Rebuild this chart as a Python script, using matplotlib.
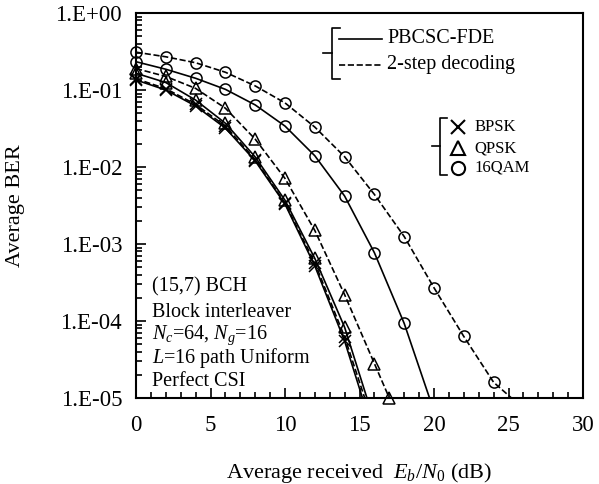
#scientific imports
import numpy as np
import matplotlib
matplotlib.use("Agg")
import matplotlib.pyplot as pl
from matplotlib.ticker import FixedLocator, MultipleLocator, LogLocator, NullFormatter

pl.rc('font', family='Liberation Serif')
pl.rc('mathtext', fontset='custom', rm='Liberation Serif', it='Liberation Serif:italic')

#data (BER vs Eb/N0 in dB)
snr_bpsk = [0, 2, 4, 6, 8, 10, 12, 14]
bpsk_pbcsc = [0.135, 0.10, 0.062, 0.032, 0.012, 0.0033, 5.2e-4, 5.5e-5]
bpsk_2step = [0.14, 0.104, 0.065, 0.034, 0.0125, 0.0034, 5.7e-4, 6.2e-5]
bpsk_end = [15.2, 15.35]  #where the curves reach 1e-5

snr_qpsk = [0, 2, 4, 6, 8, 10, 12, 14]
qpsk_pbcsc = [0.165, 0.125, 0.074, 0.037, 0.0135, 0.0037, 6.5e-4, 8.3e-5]
qpsk_pbcsc_end = 15.5
snr_qpsk2 = [0, 2, 4, 6, 8, 10, 12, 14, 16, 17]
qpsk_2step = [0.19, 0.15, 0.105, 0.058, 0.023, 0.0071, 0.0015, 2.2e-4, 2.8e-5, 1e-5]

snr_qam = [0, 2, 4, 6, 8, 10, 12, 14, 16, 18]
qam_pbcsc = [0.233, 0.186, 0.142, 0.102, 0.064, 0.034, 0.014, 0.0042, 7.7e-4, 9.3e-5]
qam_pbcsc_end = 19.7
snr_qam2 = [0, 2, 4, 6, 8, 10, 12, 14, 16, 18, 20, 22, 24]
qam_2step = [0.31, 0.27, 0.226, 0.17, 0.113, 0.068, 0.033, 0.0136, 0.0044, 1.25e-3, 2.7e-4, 6.3e-5, 1.6e-5]
qam_2step_end = 25.2

ber_floor = 1e-5
y_ticks = [1e-5, 1e-4, 1e-3, 1e-2, 1e-1, 1e0]
y_tick_labels = ["1.E-05", "1.E-04", "1.E-03", "1.E-02", "1.E-01", "1.E+00"]
x_ticks = [0, 5, 10, 15, 20, 25, 30]

notes = ["(15,7) BCH", "Block interleaver", r"$N_c$=64, $N_g$=16",
         r"$L$=16 path Uniform", "Perfect CSI"]

fig = pl.figure(figsize=(5.99, 4.84), dpi=100)
ax = fig.add_axes([136 / 599, 1 - 398 / 484, 447 / 599, 385 / 484])

mk = dict(markersize=8, markerfacecolor='none', markeredgecolor='k', markeredgewidth=1.1)
lw = 1.2


def curve(x, y, end, ls, marker):
    """plot one BER curve, line runs to the 1e-5 floor, markers at measured points"""
    xs = list(x)
    ys = list(y)
    if end is not None:
        xs.append(end)
        ys.append(ber_floor)
    ax.plot(xs, ys, ls=ls, color='k', lw=lw, clip_on=False)
    ax.plot(x, y, ls='none', marker=marker, clip_on=False, **mk)


curve(snr_bpsk, bpsk_pbcsc, bpsk_end[0], '-', 'x')
curve(snr_bpsk, bpsk_2step, bpsk_end[1], '--', 'x')
curve(snr_qpsk, qpsk_pbcsc, qpsk_pbcsc_end, '-', '^')
curve(snr_qpsk2, qpsk_2step, None, '--', '^')
curve(snr_qam, qam_pbcsc, qam_pbcsc_end, '-', 'o')
curve(snr_qam2, qam_2step, qam_2step_end, '--', 'o')

ax.set_yscale('log')
ax.set_xlim(0, 30)
ax.set_ylim(1e-5, 1)
ax.yaxis.set_major_locator(FixedLocator(y_ticks))
ax.set_yticklabels(y_tick_labels)
ax.yaxis.set_minor_locator(LogLocator(base=10, subs=np.arange(2, 10)))
ax.yaxis.set_minor_formatter(NullFormatter())
ax.set_xticks(x_ticks)
ax.xaxis.set_minor_locator(MultipleLocator(1))

ax.tick_params(which='both', direction='in', top=False, right=False, labelsize=16.5, width=1.2)
ax.tick_params(which='major', length=7)
ax.tick_params(which='minor', length=4)
ax.tick_params(axis='x', pad=12)
ax.tick_params(axis='y', pad=10)
for s in ax.spines.values():
    s.set_linewidth(1.5)

ax.set_ylabel("Average BER", fontsize=16, va='center')
ax.yaxis.set_label_coords(-0.27, 0.5)
ax.set_xlabel(r"Average received  $E_b$/$N_0$ (dB)", fontsize=16, va='center')
ax.xaxis.set_label_coords(0.5, -0.195)

#annotation block
note_y = [0.288, 0.223, 0.163, 0.104, 0.042]
for t, yy in zip(notes, note_y):
    ax.text(0.036, yy, t, transform=ax.transAxes, fontsize=14.5, va='center', ha='left')

#legend 1: line styles with bracket
tr = ax.transAxes
ax.plot([0.456, 0.4385, 0.4385, 0.456], [0.961, 0.961, 0.829, 0.829], color='k', lw=1.2, transform=tr)
ax.plot([0.418, 0.4385], [0.896, 0.896], color='k', lw=1.2, transform=tr)
ax.plot([0.454, 0.550], [0.9325, 0.9325], color='k', lw=lw, ls='-', transform=tr)
ax.plot([0.454, 0.550], [0.865, 0.865], color='k', lw=lw, ls='--', transform=tr)
ax.text(0.5615, 0.9325, "PBCSC-FDE", transform=tr, fontsize=14.5, va='center')
ax.text(0.5615, 0.865, "2-step decoding", transform=tr, fontsize=14.5, va='center')

#legend 2: markers with bracket
ax.plot([0.696, 0.680, 0.680, 0.696], [0.727, 0.727, 0.579, 0.579], color='k', lw=1.2, transform=tr)
ax.plot([0.662, 0.680], [0.655, 0.655], color='k', lw=1.2, transform=tr)
for m, yy, lab in zip(['x', '^', 'o'], [0.704, 0.649, 0.598], ["BPSK", "QPSK", "16QAM"]):
    ax.plot([0.720], [yy], ls='none', marker=m, transform=tr, markersize=9.5,
            markerfacecolor='none', markeredgecolor='k', markeredgewidth=1.5)
    ax.text(0.758, yy, lab, transform=tr, fontsize=12, va='center')

fig.savefig("out.png", dpi=100)
pl.close(fig)
